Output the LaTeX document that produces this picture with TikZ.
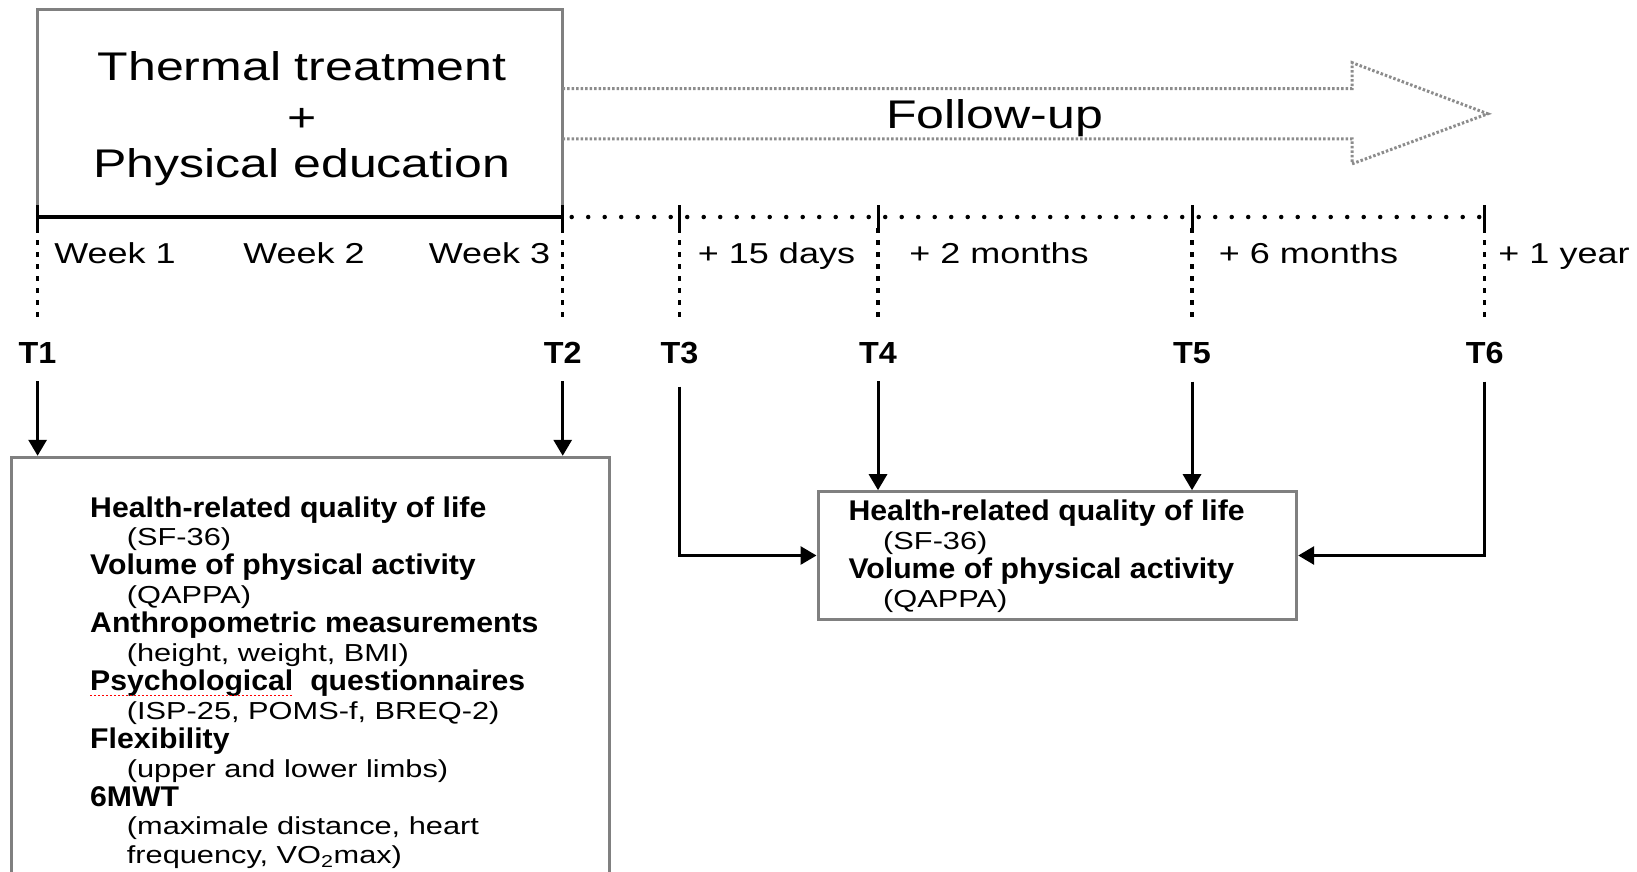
\documentclass[tikz,border=0pt]{standalone}
\usepackage{fontspec}
\setmainfont{Liberation Sans}[FakeStretch=1.25]
\newfontfamily\bfam{Liberation Sans}[FakeStretch=1.06]
\usetikzlibrary{arrows.meta,calc}
\definecolor{boxgray}{HTML}{808080}
\definecolor{arrgray}{HTML}{8C8C8C}
\begin{document}
\begin{tikzpicture}[x=1pt,y=-1pt,
  box/.style={draw=boxgray,line width=3pt,inner sep=0pt},
  bigtxt/.style={font=\fontsize{40}{48}\selectfont,anchor=base,inner sep=0pt},
  tl/.style={font=\fontsize{28.8}{30}\selectfont,anchor=base,inner sep=0pt},
  tlab/.style={font=\bfam\bfseries\fontsize{30.5}{32}\selectfont,anchor=base,inner sep=0pt},
  hd/.style={font=\bfam\bfseries\fontsize{28.5}{30}\selectfont,anchor=base west,inner sep=0pt},
  sub/.style={font=\fontsize{24.6}{28}\selectfont,anchor=base west,inner sep=0pt},
  arr/.style={line width=3pt,-{Triangle[width=18pt,length=16pt]}},
  tickmark/.style={line width=3pt},
  vdash/.style={line width=3.5pt,dash pattern=on 5pt off 7pt},
  hdot/.style={line width=4.5pt,line cap=round,dash pattern=on 0pt off 16.5pt},
  fuline/.style={draw=arrgray,line width=3pt,dash pattern=on 2.5pt off 2pt}
]
\useasboundingbox (0,0) rectangle (1637,871);

% top box
\node[box,minimum width=525.1pt,minimum height=207.6pt] (tbox) at (300.15,113.3) {};
\node[bigtxt] (th1) at (302,80) {Thermal treatment};
\node[bigtxt] (th2) at (302,131.5) {+};
\node[bigtxt] (th3) at (302,177) {Physical education};

% follow-up arrow
\coordinate (fa1) at (562.7,88.7);
\coordinate (fa2) at (1352,88.7);
\coordinate (fa3) at (1352,62.6);
\coordinate (fa4) at (1487.7,113.8);
\coordinate (fa5) at (1352,163.9);
\coordinate (fa6) at (1352,138.9);
\coordinate (fa7) at (562.7,138.9);
\draw[fuline] (fa1) -- (fa2) -- (fa3) -- (fa4) -- (fa5) -- (fa6) -- (fa7);
\node[bigtxt] (fu) at (994.5,128) {Follow-up};

% timeline
\coordinate (x1) at (37.6,217);
\coordinate (x2) at (562.7,217);
\coordinate (x3) at (679.6,217);
\coordinate (x4) at (878,217);
\coordinate (x5) at (1192,217);
\coordinate (x6) at (1484.6,217);
\draw[line width=4pt] (x1) -- (x2);
\draw[hdot] ($(x2)+(9,0)$) -- (x6);
\foreach \p in {x1,x2,x3,x4,x5,x6}{
  \draw[tickmark] ($(\p)+(0,-12)$) -- ($(\p)+(0,11)$);
  \draw[vdash] ($(\p)+(0,11)$) -- ($(\p)+(0,100)$);
}

% period labels
\node[tl] (w1) at (115,263) {Week 1};
\node[tl] (w2) at (304,263) {Week 2};
\node[tl] (w3) at (489.5,263) {Week 3};
\node[tl] (d15) at (776.5,263) {+ 15 days};
\node[tl] (m2) at (999,263) {+ 2 months};
\node[tl] (m6) at (1308.5,263) {+ 6 months};
\node[tl] (y1) at (1564,263) {+ 1 year};

% time points
\node[tlab] (T1) at (37.6,363) {T1};
\node[tlab] (T2) at (562.7,363) {T2};
\node[tlab] (T3) at (679.6,363) {T3};
\node[tlab] (T4) at (878,363) {T4};
\node[tlab] (T5) at (1192,363) {T5};
\node[tlab] (T6) at (1484.6,363) {T6};

% boxes
\node[box,minimum width=598.2pt,minimum height=442.7pt] (lbox) at (310.6,678.65) {};
\node[box,minimum width=478.7pt,minimum height=127.6pt] (rbox) at (1057.35,555.5) {};

% arrows
\draw[arr] ($(T1.south)+(0,18)$) -- (T1 |- lbox.north);
\draw[arr] ($(T2.south)+(0,18)$) -- (T2 |- lbox.north);
\draw[arr] ($(T4.south)+(0,18)$) -- (T4 |- rbox.north);
\draw[arr] ($(T5.south)+(0,18)$) -- (T5 |- rbox.north);
\draw[arr] ($(T3.south)+(0,23)$) |- (rbox.west);
\draw[arr] ($(T6.south)+(0,18)$) |- (rbox.east);

% left box text
\node[hd] (L1) at (90,517.0) {Health-related quality of life};
\node[sub] (L2) at (126.7,545.9) {(SF-36)};
\node[hd] (L3) at (90,574.8) {Volume of physical activity};
\node[sub] (L4) at (126.7,603.7) {(QAPPA)};
\node[hd] (L5) at (90,632.6) {Anthropometric measurements};
\node[sub] (L6) at (126.7,661.5) {(height, weight, BMI)};
\node[hd] (L7) at (90,690.4) {Psychological\hspace{0.3em} questionnaires};
\node[sub] (L8) at (126.7,719.3) {(ISP-25, POMS-f, BREQ-2)};
\node[hd] (L9) at (90,748.2) {Flexibility};
\node[sub] (L10) at (126.7,777.1) {(upper and lower limbs)};
\node[hd] (L11) at (90,806.0) {6MWT};
\node[sub] (L12) at (126.7,834.9) {(maximale distance, heart};
\node[sub] (L13) at (126.7,863.8) {frequency, VO\textsubscript{2}max)};
\draw[red,line width=1.8pt,dash pattern=on 2pt off 2pt] ($(L7.base west)+(0,5)$) -- ++(202,0);

% right box text
\node[hd] (R1) at (848.3,520.7) {Health-related quality of life};
\node[sub] (R2) at (883,549.5) {(SF-36)};
\node[hd] (R3) at (848.3,578.3) {Volume of physical activity};
\node[sub] (R4) at (883,607.1) {(QAPPA)};
\end{tikzpicture}
\end{document}
